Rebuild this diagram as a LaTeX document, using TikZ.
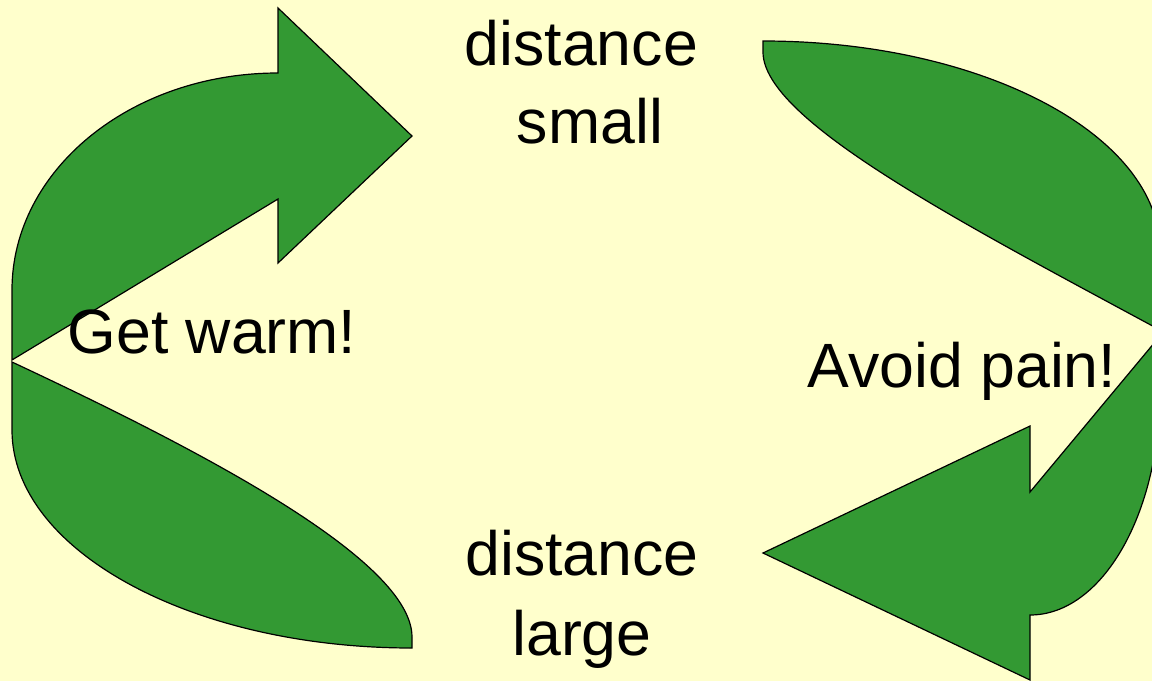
\documentclass[tikz,border=0pt]{standalone}
\usepackage{fontspec}
\setmainfont{Liberation Sans}
\usepackage{tikz}
\usetikzlibrary{positioning}
\definecolor{paper}{RGB}{255,255,204}
\definecolor{leaf}{RGB}{51,153,51}
\tikzset{
  curlshape/.style={fill=leaf, draw=black, line width=1.2pt, line join=miter},
  lbl/.style={font=\fontsize{62.6}{78}\selectfont, inner sep=0pt, align=center, anchor=base},
}
\begin{document}
\begin{tikzpicture}[x=1pt, y=-1pt]
\fill[paper] (0,0) rectangle (1152,681);
\useasboundingbox (0,0) rectangle (1152,681);
% left arrow: tail behind, head pointing right
\draw[curlshape] (12,362) -- (12,430) .. controls (12,550) and (191,648) .. (412,648) -- (412,637) .. controls (412,560) and (200,450) .. (12,362) -- cycle;
\draw[curlshape] (12,360) -- (12,290) .. controls (12,170) and (131,73) .. (278,73) -- (278,8) -- (412,136) -- (278,263) -- (278,199) -- cycle;
% right arrow: tail on top, head pointing left
\draw[curlshape] (763,41) .. controls (982,41) and (1160,135) .. (1160,250) -- (1160,330) .. controls (960,222) and (763,120) .. (763,52) -- cycle;
\draw[curlshape] (1160,336) -- (1030,492) -- (1030,426) -- (763,553) -- (1030,680) -- (1030,615) .. controls (1102,615) and (1160,514) .. (1160,390) -- cycle;
% labels (base = last line)
\node[lbl] (near) at (590,143) {distance\hspace*{0.278em}\\small};
\node[lbl, font=\fontsize{62.6}{80}\selectfont] (far) at (582,655) {distance\\large};
\node[lbl] (warm) at (212,353) {Get warm!};
\node[lbl] (pain) at (962,387) {Avoid pain!};
\end{tikzpicture}
\end{document}
